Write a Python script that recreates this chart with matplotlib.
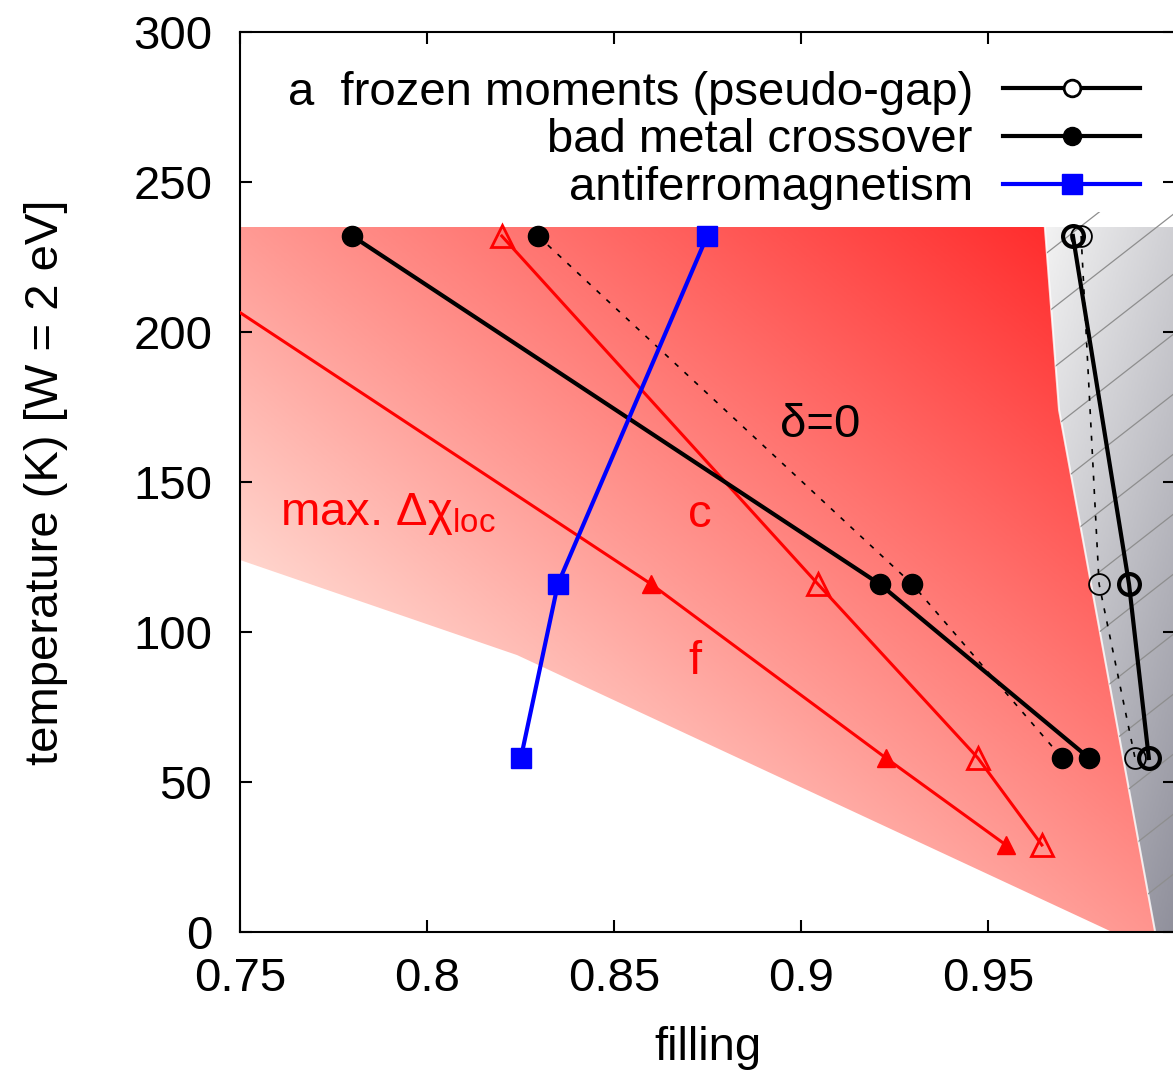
import numpy as np
import matplotlib
matplotlib.use('Agg')
import matplotlib.pyplot as plt
from matplotlib.colors import LinearSegmentedColormap
from matplotlib.patches import Polygon
from matplotlib.lines import Line2D

plt.rcParams['font.family'] = ['Liberation Sans', 'DejaVu Sans']
plt.rcParams['mathtext.fontset'] = 'custom'
plt.rcParams['mathtext.rm'] = 'Liberation Sans'
plt.rcParams['mathtext.it'] = 'Liberation Sans'
plt.rcParams['mathtext.bf'] = 'Liberation Sans:bold'

FS = 34

# ---------------- data ----------------
T4 = [232, 116, 58, 29]          # temperature (K)
T3 = [232, 116, 58]

frozen_n = [0.9727, 0.9877, 0.9930]        # frozen moments (pseudo-gap)
frozen_n_d0 = [0.9749, 0.9797, 0.9893]     # same, delta=0
badmetal_n = [0.780, 0.921, 0.977]         # bad metal crossover
badmetal_n_d0 = [0.8297, 0.9297, 0.9698]   # same, delta=0
afm_n = [0.8749, 0.8350, 0.8251]           # antiferromagnetism
chi_f_n = [0.719, 0.8599, 0.9227, 0.9548]  # max dchi_loc, f
chi_c_n = [0.820, 0.9045, 0.9473, 0.9644]  # max dchi_loc, c

# shaded region of max. dchi_loc
red_n = [0.75, 0.9652, 0.9690, 0.9947, 0.9832, 0.8241, 0.75]
red_T = [235, 235, 174, 0, 0, 92.3, 124]
# frozen moment region
gray_n = [0.9652, 1.0, 1.0, 0.9947, 0.9690]
gray_T = [235, 235, 0, 0, 174]
hatch_n = [0.9649, 1.0, 1.0, 0.9947, 0.9690]
hatch_T = [240, 240, 0, 0, 174]
edge_n = [0.9652, 0.9690, 0.9947]
edge_T = [235, 174, 0]

xticks = [0.75, 0.8, 0.85, 0.9, 0.95]
xticklabels = ['0.75', '0.8', '0.85', '0.9', '0.95']
yticks = [0, 50, 100, 150, 200, 250, 300]

# ---------------- figure ----------------
fig = plt.figure(figsize=(11.73, 10.79), dpi=100)
ax = fig.add_axes([240 / 1173, 147 / 1079, 935 / 1173, 900 / 1079])
ax.set_xlim(0.75, 1.0)
ax.set_ylim(0, 300)

# gradient grid (in axes pixel space)
nx, ny = 600, 600
xs = np.linspace(0.75, 1.0, nx)
Ts = np.linspace(0, 300, ny)
X, Tg = np.meshgrid(xs, Ts)
PX = (X - 0.75) / 0.25 * 935
PY = (300 - Tg) / 300 * 900

s = (PX * 690 - (PY - 198) * 860) / 1102
t_red = np.clip((s + 257) / 761, 0, 1)
red_cmap = LinearSegmentedColormap.from_list(
    'redg', [(0, '#ffd4cc'), (0.338, '#ff9a94'), (1, '#ff2e2e')])
red_img = red_cmap(t_red)

t_gray = np.clip((PX - 800) * 0.002 + (PY - 196) * 0.00066, 0, 1)
gray_cmap = LinearSegmentedColormap.from_list('grayg', ['#f4f4f4', '#6c6c7c'])
gray_img = gray_cmap(t_gray)

red_patch = Polygon(np.column_stack([red_n, red_T]), closed=True,
                    facecolor='none', edgecolor='none')
gray_patch = Polygon(np.column_stack([gray_n, gray_T]), closed=True,
                     facecolor='none', edgecolor='none')
hatch_patch = Polygon(np.column_stack([hatch_n, hatch_T]), closed=True,
                      facecolor='none', edgecolor='none')
ax.add_patch(red_patch)
ax.add_patch(gray_patch)
ax.add_patch(hatch_patch)

im1 = ax.imshow(red_img, extent=[0.75, 1.0, 0, 300], origin='lower',
                aspect='auto', interpolation='bilinear', zorder=0)
im1.set_clip_path(red_patch)
im2 = ax.imshow(gray_img, extent=[0.75, 1.0, 0, 300], origin='lower',
                aspect='auto', interpolation='bilinear', zorder=0)
im2.set_clip_path(gray_patch)

ax.plot(edge_n, edge_T, color='white', lw=1.5, alpha=0.8, zorder=0.6)

for k in range(-2, 15):
    xl = np.array([0.95, 1.0])
    tl = 208 - 20 * k + 972 * (xl - 0.9674)
    ln, = ax.plot(xl, tl, color='#8e8e8e', lw=0.9, zorder=0.7)
    ln.set_clip_path(hatch_patch)

# data series
ax.plot(chi_f_n, T4, color='red', lw=2.2, marker='^', ms=13, zorder=3)
ax.plot(chi_c_n, T4, color='red', lw=2.2, marker='^', ms=16,
        mfc='none', mew=2, zorder=3)
ax.plot(badmetal_n_d0, T3, color='k', ls=(0, (3, 5)), lw=1.2,
        marker='o', ms=14.5, zorder=4)
ax.plot(frozen_n_d0, T3, color='k', ls=(0, (3, 5)), lw=1.2,
        marker='o', ms=15, mfc='none', mew=1.3, zorder=4)
ax.plot(badmetal_n, T3, color='k', lw=3, marker='o', ms=14.5, zorder=5)
ax.plot(frozen_n, T3, color='k', lw=3, marker='o', ms=15,
        mfc='none', mew=3, zorder=5)
ax.plot(afm_n, T3, color='blue', lw=3, marker='s', ms=15, zorder=6)

# annotations
ax.text(0.7607, 135.7, 'max. Δχ$_{\\mathrm{loc}}$', color='red',
        fontsize=FS, va='baseline', ha='left')
ax.text(0.873, 139, 'c', color='red', fontsize=FS, ha='center', va='center')
ax.text(0.8717, 90, 'f', color='red', fontsize=FS, ha='center', va='center')
ax.text(0.9051, 169, 'δ=0', color='black', fontsize=FS, ha='center', va='center')

# legend
handles = [
    Line2D([], [], color='k', lw=3, marker='o', ms=12, mfc='white', mew=2),
    Line2D([], [], color='k', lw=3, marker='o', ms=13),
    Line2D([], [], color='blue', lw=3, marker='s', ms=15),
]
labels = ['a  frozen moments (pseudo-gap)', 'bad metal crossover',
          'antiferromagnetism']
ax.legend(handles, labels, loc='upper right', bbox_to_anchor=(0.9626, 0.957),
          frameon=False, markerfirst=False, handlelength=2.9,
          handletextpad=0.64, borderpad=0, borderaxespad=0,
          labelspacing=0.08, fontsize=FS)

# axes styling
ax.set_xticks(xticks)
ax.set_xticklabels(xticklabels)
ax.set_yticks(yticks)
ax.tick_params(direction='in', length=8.5, width=1.5, top=True, right=True,
               labelsize=FS)
ax.tick_params(axis='x', pad=18)
ax.tick_params(axis='y', pad=20)
for sp in ax.spines.values():
    sp.set_linewidth(1.5)

ax.set_xlabel('filling', fontsize=FS)
ax.xaxis.set_label_coords(0.5, -0.105)
ax.set_ylabel('temperature (K) [W = 2 eV]', fontsize=FS)
ax.yaxis.set_label_coords(-0.184, 0.5)

fig.savefig('out.png', dpi=100)
